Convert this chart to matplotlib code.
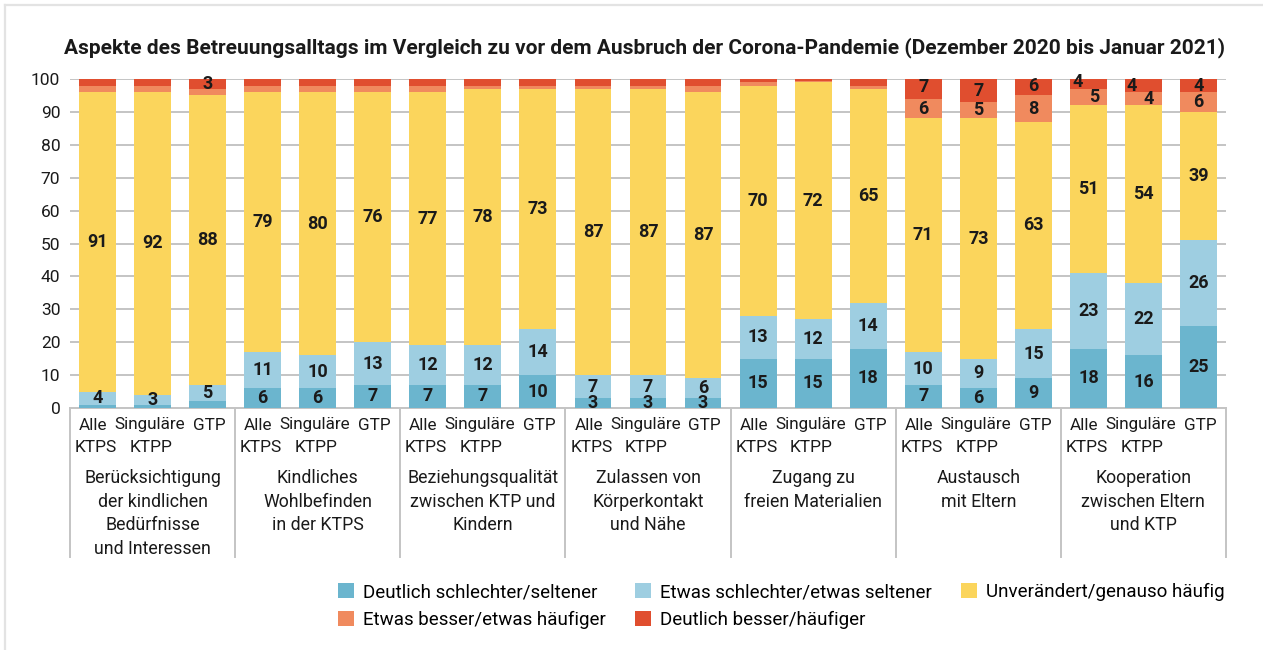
import numpy as np
import matplotlib.pyplot as plt
import matplotlib.transforms as mtransforms
from matplotlib.patches import Patch
from matplotlib.lines import Line2D

plt.rcParams['font.family'] = ['Roboto', 'DejaVu Sans']

# ------------------------------------------------------------------
# Daten (Anteile in %)
# ------------------------------------------------------------------
title = ("Aspekte des Betreuungsalltags im Vergleich zu vor dem Ausbruch "
         "der Corona-Pandemie (Dezember 2020 bis Januar 2021)")

aspects = [
    "Berücksichtigung\nder kindlichen\nBedürfnisse\nund Interessen",
    "Kindliches\nWohlbefinden\nin der KTPS",
    "Beziehungsqualität\nzwischen KTP und\nKindern",
    "Zulassen von\nKörperkontakt\nund Nähe",
    "Zugang zu\nfreien Materialien",
    "Austausch\nmit Eltern",
    "Kooperation\nzwischen Eltern\nund KTP",
]
settings_top = ["Alle", "Singuläre", "GTP"]
settings_bottom = ["KTPS", "KTPP", ""]

deutlich_schlechter = [1, 1, 2, 6, 6, 7, 7, 7, 10, 3, 3, 3, 15, 15, 18, 7, 6, 9, 18, 16, 25]
etwas_schlechter = [4, 3, 5, 11, 10, 13, 12, 12, 14, 7, 7, 6, 13, 12, 14, 10, 9, 15, 23, 22, 26]
unveraendert = [91, 92, 88, 79, 80, 76, 77, 78, 73, 87, 87, 87, 70, 72, 65, 71, 73, 63, 51, 54, 39]
etwas_besser = [2, 2, 2, 2, 2, 2, 2, 1, 1, 1, 1, 2, 1, 0.5, 1, 6, 5, 8, 5, 4, 6]
deutlich_besser = [2, 2, 3, 2, 2, 2, 2, 2, 2, 2, 2, 2, 1, 0.5, 2, 7, 7, 6, 4, 4, 4]

series = [deutlich_schlechter, etwas_schlechter, unveraendert, etwas_besser, deutlich_besser]
legend_labels = ["Deutlich schlechter/seltener", "Etwas schlechter/etwas seltener",
                 "Unverändert/genauso häufig", "Etwas besser/etwas häufiger",
                 "Deutlich besser/häufiger"]
colors = ["#6bb5ce", "#9ecee1", "#fbd55c", "#f08a5e", "#e04e2f"]

# kleine Verschiebungen der Beschriftungen bei engen Segmenten
label_dx = {(18, 4): -0.2, (18, 3): 0.1, (19, 4): -0.22, (19, 3): 0.1}
# Versatz der Einrichtungsbezeichnungen (erste / zweite Zeile)
top_dx = [-0.08, -0.05, 0.03]
bottom_dx = [-0.03, -0.03, 0.0]

# ------------------------------------------------------------------
# Abbildung
# ------------------------------------------------------------------
fig = plt.figure(figsize=(12.63, 6.5), dpi=100)
ax = fig.add_axes([70 / 1263, 1 - 408 / 650, 1156 / 1263, 329 / 650])

n = len(unveraendert)
x = np.arange(n)
bottom = np.zeros(n)
handles = []
for k, (vals, col, lab) in enumerate(zip(series, colors, legend_labels)):
    vals = np.array(vals, dtype=float)
    ax.bar(x, vals, bottom=bottom, width=0.67, color=col, zorder=3)
    for i in range(n):
        if vals[i] >= 3:
            ax.text(x[i] + label_dx.get((i, k), 0), bottom[i] + vals[i] / 2,
                    f"{vals[i]:.0f}", ha="center", va="center",
                    fontsize=13, fontweight="bold", color="#1a1a1a", zorder=4)
    bottom += vals
    handles.append(Patch(facecolor=col, edgecolor="none", label=lab))

ax.set_xlim(-0.5, n - 0.5)
ax.set_ylim(0, 100)
ax.set_yticks(range(0, 101, 10))
ax.tick_params(axis="y", length=0, labelsize=12.5, pad=7, labelcolor="#1a1a1a")
ax.set_xticks([])
ax.grid(axis="y", color="#c4c4c4", linewidth=1.4, zorder=0)
for s in ax.spines.values():
    s.set_visible(False)

# Gruppenrahmen und Kategorienbeschriftung unter der Achse
trans = mtransforms.blended_transform_factory(ax.transData, ax.transAxes)
box_bottom = (408 - 557) / 329
ax.plot([-0.5, n - 0.5], [0, 0], transform=trans, color="#c4c4c4",
        linewidth=1.4, clip_on=False, zorder=2)
for g in range(len(aspects) + 1):
    ax.plot([g * 3 - 0.5] * 2, [0, box_bottom], transform=trans,
            color="#c4c4c4", linewidth=1.4, clip_on=False)

for g, name in enumerate(aspects):
    for j in range(3):
        xi = g * 3 + j
        ax.text(xi + top_dx[j], (408 - 425) / 329, settings_top[j], transform=trans,
                ha="center", va="center", fontsize=12.3, color="#1a1a1a")
        ax.text(xi + bottom_dx[j], (408 - 448) / 329, settings_bottom[j],
                transform=trans, ha="center", va="center", fontsize=12.5,
                color="#1a1a1a")
    ax.text(g * 3 + 1, (408 - 469) / 329, name, transform=trans,
            ha="center", va="top", fontsize=12.8, linespacing=1.41,
            color="#1a1a1a")

fig.text(0.5 * (68 + 1222) / 1263, 1 - 48 / 650, title, ha="center", va="center",
         fontsize=15.05, fontweight="bold", color="#1a1a1a")

order = [0, 3, 1, 4, 2]
fig.legend([handles[i] for i in order], [legend_labels[i] for i in order],
           loc="upper left", bbox_to_anchor=(338 / 1263, 1 - 583 / 650),
           ncol=3, frameon=False, fontsize=13.5, handlelength=0.85,
           handleheight=0.85, handletextpad=0.48, columnspacing=1.55,
           labelspacing=0.5, borderpad=0, borderaxespad=0)

# heller Rahmen oben und links
fig.add_artist(Line2D([5 / 1263, 5 / 1263], [0, 1 - 5 / 650], color="#e3e3e3",
                      linewidth=1.6, transform=fig.transFigure))
fig.add_artist(Line2D([5 / 1263, 1], [1 - 5 / 650, 1 - 5 / 650], color="#e3e3e3",
                      linewidth=1.6, transform=fig.transFigure))

fig.savefig("out.png", dpi=100, facecolor="white")
